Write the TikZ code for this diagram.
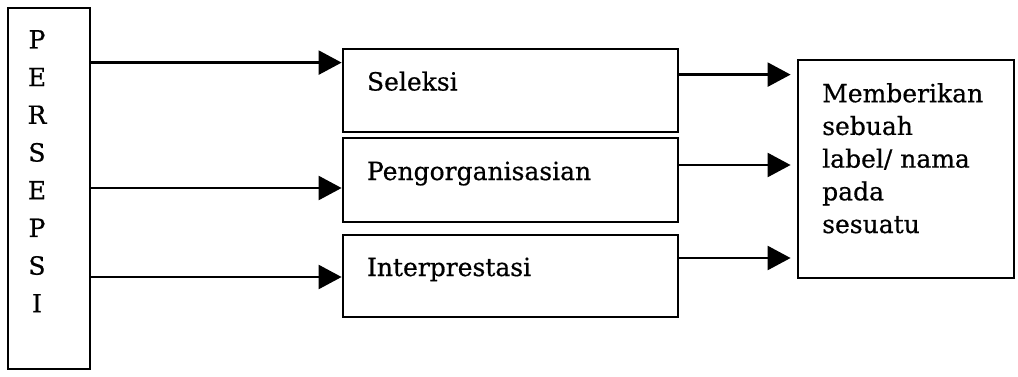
\documentclass[tikz,border=0pt]{standalone}
\usepackage{fontspec}
\setmainfont{DejaVu Serif}[UprightFeatures={FakeBold=0.6}]
\usetikzlibrary{arrows.meta}
\begin{document}
\begin{tikzpicture}[x=1pt,y=-1pt,
  box/.style={draw, line width=2.8pt, rectangle, inner sep=0pt},
  stage/.style={box, minimum width=335pt, text width=287pt, inner xsep=24pt,
    align=left, text height=19pt, text depth=19pt,
    font=\fontsize{25}{30}\selectfont},
  label/.style={inner sep=0pt, font=\fontsize{25}{#1}\selectfont},
  arr/.style={line width=2.4pt, -{Triangle[length=23pt,width=24pt]}}
]
\useasboundingbox (0,0) rectangle (1018,376);

% left column box with the vertical word
\node[box, minimum width=82pt, minimum height=361pt] (persepsi) at (49,188.5) {};
\node[label=37.7pt, anchor=north, align=center] (persepsi-text) at (37,30)
  {P\\E\\R\\S\\E\\P\\S\\I};

% the three stages
\node[stage, minimum height=83pt] (seleksi) at (510.5,90.5) {Seleksi};
\node[stage, minimum height=84pt] (organisasi) at (510.5,180) {Pengorganisasian};
\node[stage, minimum height=82pt] (interpretasi) at (510.5,276) {Interprestasi};

% result box
\node[box, minimum width=216pt, minimum height=218pt] (hasil) at (906,169) {};
\node[label=32.7pt, anchor=north west, align=left] (hasil-text) at (822,83)
  {Memberikan\\sebuah\\label/ nama\\pada\\sesuatu};

% arrows into the stages
\coordinate (in1) at ([yshift=-15pt]seleksi.north west);
\coordinate (in2) at ([yshift=-8pt]organisasi.west);
\coordinate (in3) at ([yshift=-1pt]interpretasi.west);
\draw[arr] (persepsi.east |- in1) -- (in1);
\draw[arr] (persepsi.east |- in2) -- (in2);
\draw[arr] (persepsi.east |- in3) -- (in3);

% arrows out of the stages
\coordinate (out1) at ([yshift=-27pt]seleksi.north east);
\coordinate (out2) at ([yshift=15pt]organisasi.east);
\coordinate (out3) at ([yshift=18pt]interpretasi.east);
\draw[arr, shorten >=6pt] (out1) -- (hasil.west |- out1);
\draw[arr, shorten >=6pt] (out2) -- (hasil.west |- out2);
\draw[arr, shorten >=6pt] (out3) -- (hasil.west |- out3);
\end{tikzpicture}
\end{document}
